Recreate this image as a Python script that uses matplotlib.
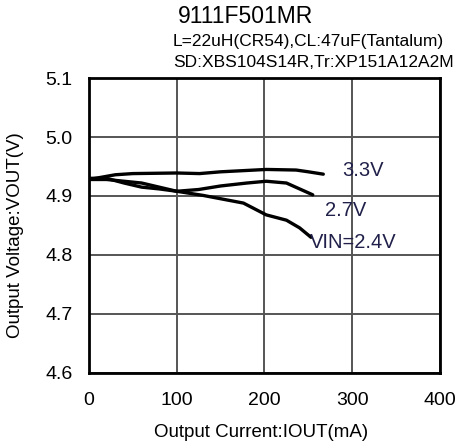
import matplotlib
matplotlib.use("Agg")
import matplotlib.pyplot as plt

plt.rcParams['font.family'] = ['Liberation Sans', 'DejaVu Sans']

# load regulation curves, output current (mA) vs output voltage (V)
iout_33 = [0, 30, 50, 100, 126, 150, 202, 236, 250, 267]
vout_33 = [4.928, 4.936, 4.938, 4.939, 4.938, 4.941, 4.945, 4.944, 4.941, 4.937]

iout_27 = [0, 20, 40, 60, 80, 100, 125, 150, 180, 202, 225, 240, 255]
vout_27 = [4.928, 4.928, 4.925, 4.922, 4.915, 4.908, 4.911, 4.917, 4.922, 4.925, 4.922, 4.912, 4.902]

iout_24 = [0, 20, 40, 60, 80, 100, 130, 176, 202, 225, 240, 253]
vout_24 = [4.930, 4.930, 4.922, 4.915, 4.912, 4.908, 4.901, 4.888, 4.868, 4.859, 4.846, 4.830]

x_ticks = [0, 100, 200, 300, 400]
y_ticks = [4.6, 4.7, 4.8, 4.9, 5.0, 5.1]

fig = plt.figure(figsize=(4.59, 4.46), dpi=100)
ax = fig.add_axes([0.1939, 0.1637, 0.7647, 0.6614])

for x, y in [(iout_33, vout_33), (iout_27, vout_27), (iout_24, vout_24)]:
    ax.plot(x, y, color='black', lw=2.4, solid_capstyle='round', zorder=3)

ax.set_xlim(0, 400)
ax.set_ylim(4.6, 5.1)
ax.set_xticks(x_ticks)
ax.set_yticks(y_ticks)
ax.set_yticklabels(['%.1f' % v for v in y_ticks])
ax.grid(True, color='#555555', lw=1.4)
ax.tick_params(length=0, labelsize=14)
ax.tick_params(axis='x', pad=14)
ax.tick_params(axis='y', pad=12)
for s in ax.spines.values():
    s.set_linewidth(2)

ax.set_xlabel('Output Current:IOUT(mA)', fontsize=13.5, va='center')
ax.set_ylabel('Output Voltage:VOUT(V)', fontsize=13.5, va='center')
ax.xaxis.set_label_coords(0.49, -0.203)
ax.yaxis.set_label_coords(-0.208, 0.468)

lab_col = '#20204a'
ax.text(288, 4.944, '3.3V', fontsize=14.5, color=lab_col, va='center')
ax.text(269, 4.875, '2.7V', fontsize=14.5, color=lab_col, va='center')
ax.text(252, 4.822, 'VIN=2.4V', fontsize=14.5, color=lab_col, va='center')

fig.text(0.388, 0.962, '9111F501MR', fontsize=16.5, va='center')
fig.text(0.377, 0.908, 'L=22uH(CR54),CL:47uF(Tantalum)', fontsize=12.5, va='center')
fig.text(0.377, 0.859, 'SD:XBS104S14R,Tr:XP151A12A2M', fontsize=12.5, va='center')

fig.savefig('out.png', dpi=100)
